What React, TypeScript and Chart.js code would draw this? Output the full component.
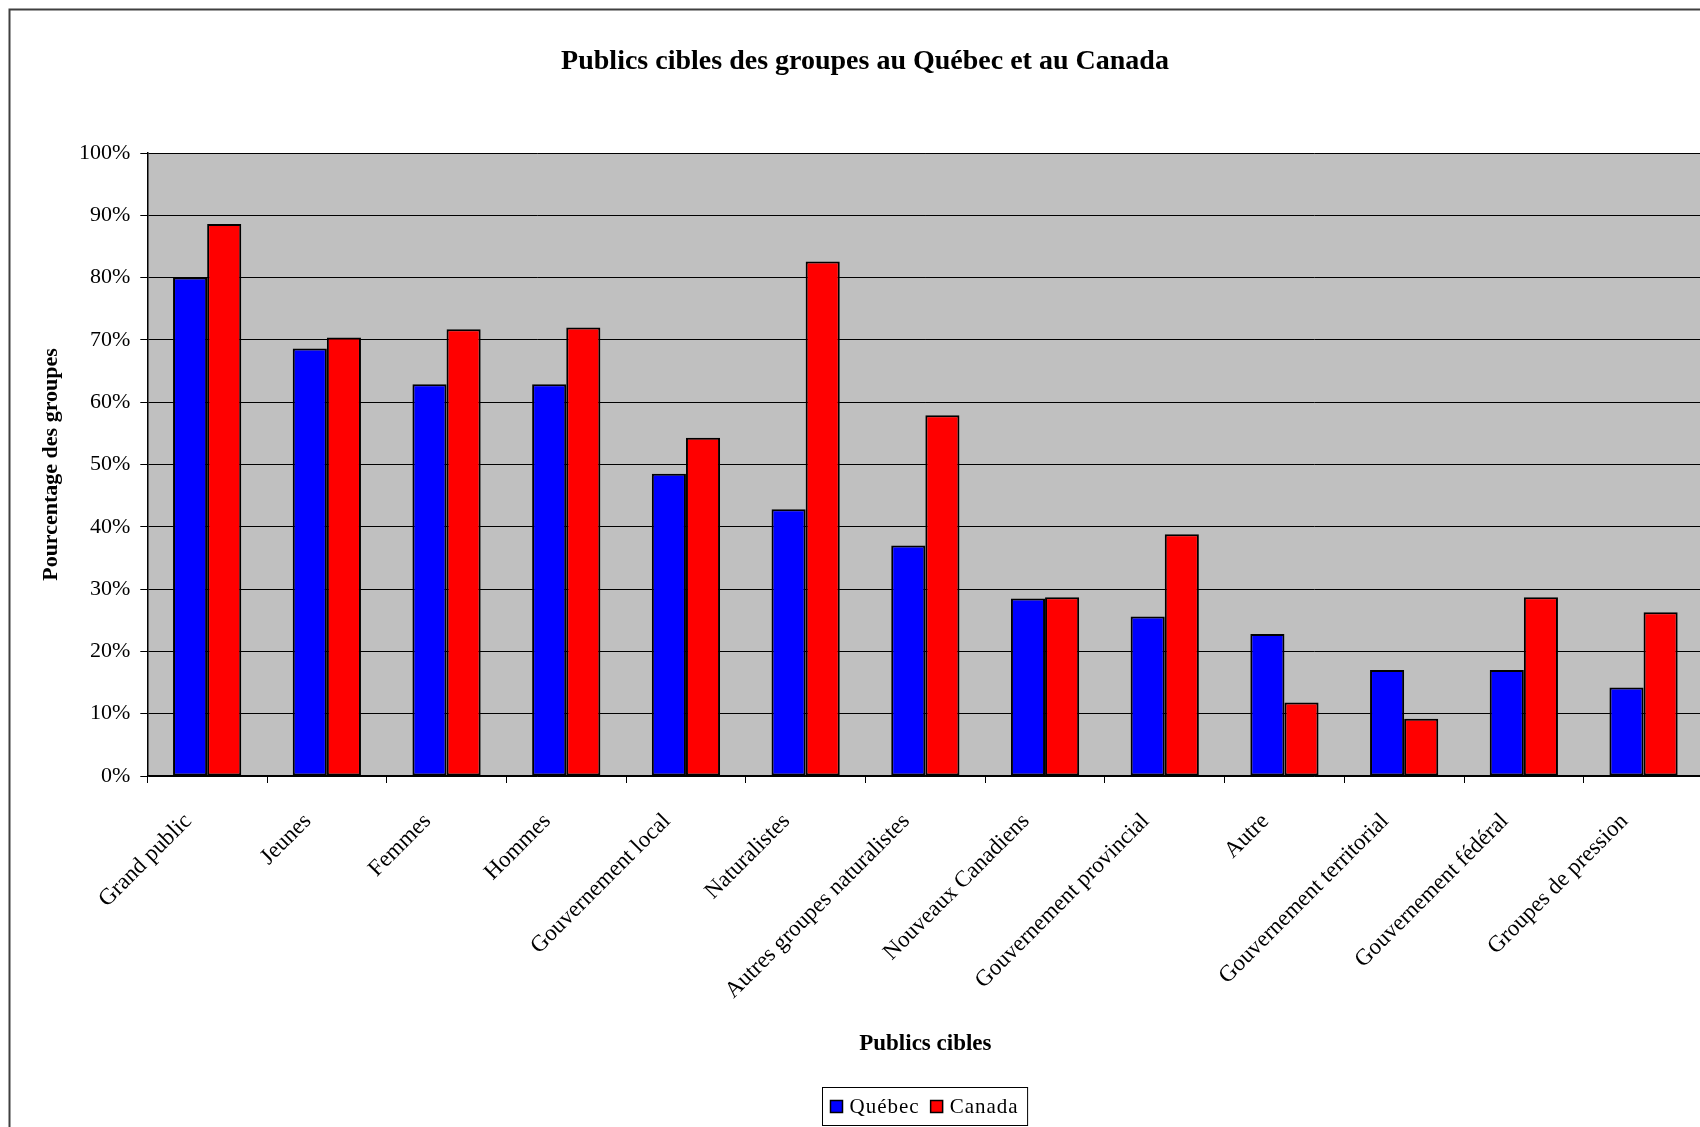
import React, { useEffect, useRef } from "react";
import { Chart, registerables } from "chart.js";

Chart.register(...registerables);

const categories = [
  "Grand public",
  "Jeunes",
  "Femmes",
  "Hommes",
  "Gouvernement local",
  "Naturalistes",
  "Autres groupes naturalistes",
  "Nouveaux Canadiens",
  "Gouvernement provincial",
  "Autre",
  "Gouvernement territorial",
  "Gouvernement fédéral",
  "Groupes de pression",
];
const quebecValues = [80.0, 68.6, 62.9, 62.9, 48.5, 42.8, 37.0, 28.5, 25.6, 22.8, 17.0, 17.0, 14.2];
const canadaValues = [88.6, 70.4, 71.7, 72.0, 54.3, 82.6, 57.9, 28.7, 38.8, 11.8, 9.2, 28.7, 26.3];
const seriesNames = ["Québec", "Canada"];
const seriesColors = ["#0000FF", "#FF0000"];
const yTickValues = [0, 10, 20, 30, 40, 50, 60, 70, 80, 90, 100];
const chartTitle = "Publics cibles des groupes au Québec et au Canada";
const xAxisTitle = "Publics cibles";
const yAxisTitle = "Pourcentage des groupes";

const FONT = "'Liberation Serif', 'Times New Roman', serif";
const CANVAS_W = 1720;
const CANVAS_H = 1127;

const decorPlugin = {
  id: "decor",
  beforeDraw(chart: any) {
    const { ctx, chartArea } = chart;
    ctx.save();
    ctx.fillStyle = "#FFFFFF";
    ctx.fillRect(0, 0, chart.width, chart.height);
    ctx.fillStyle = "#C0C0C0";
    ctx.fillRect(chartArea.left, chartArea.top, chartArea.right - chartArea.left, chartArea.bottom - chartArea.top);
    ctx.restore();
  },
  afterDraw(chart: any) {
    const { ctx, chartArea } = chart;
    ctx.save();
    // outer chart border
    ctx.strokeStyle = "#404040";
    ctx.lineWidth = 2;
    ctx.strokeRect(9.5, 9.5, chart.width + 20, chart.height + 20);

    // title
    ctx.fillStyle = "#000";
    ctx.font = `bold 28px ${FONT}`;
    ctx.textAlign = "center";
    ctx.textBaseline = "middle";
    ctx.fillText(chartTitle, 865, 62);

    // legend
    const datasets = chart.data.datasets;
    ctx.font = `21px ${FONT}`;
    try { (ctx as any).letterSpacing = "1px"; } catch (e) {}
    const sq = 12;
    const padL = 8, padR = 9, gapSqText = 7, gapItems = 11;
    const widths = datasets.map((d: any) => ctx.measureText(d.label).width);
    let total = padL + padR;
    datasets.forEach((d: any, i: number) => {
      total += sq + gapSqText + widths[i] + (i < datasets.length - 1 ? gapItems : 0);
    });
    const cx = (chartArea.left + chartArea.right) / 2;
    const bx = Math.round(cx - total / 2) - 0.5;
    const by = 1087.5;
    const bh = 38;
    ctx.fillStyle = "#FFFFFF";
    ctx.fillRect(bx, by, total, bh);
    ctx.strokeStyle = "#000";
    ctx.lineWidth = 1;
    ctx.strokeRect(bx, by, total, bh);
    let x = bx + padL;
    const midY = by + bh / 2;
    datasets.forEach((d: any, i: number) => {
      ctx.fillStyle = d.backgroundColor;
      ctx.fillRect(x, midY - sq / 2, sq, sq);
      ctx.strokeStyle = "#000";
      ctx.lineWidth = 1.5;
      ctx.strokeRect(x, midY - sq / 2, sq, sq);
      x += sq + gapSqText;
      ctx.fillStyle = "#000";
      ctx.textAlign = "left";
      ctx.textBaseline = "middle";
      ctx.fillText(d.label, x, midY + 1);
      x += widths[i] + gapItems;
    });
    try { (ctx as any).letterSpacing = "0px"; } catch (e) {}
    ctx.restore();
  },
};

export default function App() {
  const canvasRef = useRef<HTMLCanvasElement | null>(null);

  useEffect(() => {
    const canvas = canvasRef.current;
    if (!canvas) return;
    const plotLeft = 147.3;
    const plotRight = 147.3 + 13 * 119.7;
    const plotTop = 153;
    const plotBottom = 776;

    const chart = new Chart(canvas, {
      type: "bar",
      data: {
        labels: categories,
        datasets: [
          {
            label: seriesNames[0],
            data: quebecValues,
            backgroundColor: seriesColors[0],
            borderColor: "#000000",
            borderWidth: 2,
            borderSkipped: false,
            categoryPercentage: 0.57,
            barPercentage: 1.0,
          },
          {
            label: seriesNames[1],
            data: canadaValues,
            backgroundColor: seriesColors[1],
            borderColor: "#000000",
            borderWidth: 2,
            borderSkipped: false,
            categoryPercentage: 0.57,
            barPercentage: 1.0,
          },
        ],
      },
      options: {
        responsive: false,
        animation: false,
        devicePixelRatio: 1,
        layout: {
          padding: { top: plotTop, left: 0, right: CANVAS_W - plotRight, bottom: 0 },
        },
        plugins: {
          legend: { display: false },
          title: { display: false },
          tooltip: { enabled: false },
        },
        scales: {
          x: {
            grid: {
              display: true,
              drawOnChartArea: false,
              drawTicks: true,
              tickLength: 7,
              color: "#000000",
              offset: true,
            },
            border: { display: true, color: "#000000", width: 1.5 },
            ticks: {
              autoSkip: false,
              minRotation: 45,
              maxRotation: 45,
              color: "#000000",
              font: { family: FONT, size: 23 },
              padding: 25,
              labelOffset: -19,
            },
            title: {
              display: true,
              text: xAxisTitle,
              color: "#000000",
              font: { family: FONT, size: 23, weight: "bold" },
              padding: { top: 0, bottom: 69 },
            },
            afterFit: (s: any) => {
              s.height = CANVAS_H - plotBottom;
            },
          },
          y: {
            min: 0,
            max: 100,
            afterBuildTicks: (s: any) => {
              s.ticks = yTickValues.map((v) => ({ value: v }));
            },
            ticks: {
              color: "#000000",
              font: { family: FONT, size: 22 },
              padding: 10,
              callback: (v: any) => `${v}%`,
            },
            grid: {
              color: "#000000",
              lineWidth: 1,
              drawTicks: true,
              tickLength: 7,
            },
            border: { display: true, color: "#000000", width: 1.5 },
            title: {
              display: true,
              text: yAxisTitle,
              color: "#000000",
              font: { family: FONT, size: 22, weight: "bold" },
              padding: { top: 38, bottom: 0 },
            },
            afterFit: (s: any) => {
              s.width = plotLeft;
            },
          },
        },
      },
      plugins: [decorPlugin],
    });
    return () => chart.destroy();
  }, []);

  return (
    <div
      style={{
        position: "fixed",
        left: 0,
        top: 0,
        width: 1700,
        height: 1127,
        overflow: "hidden",
        background: "#fff",
      }}
    >
      <canvas
        ref={canvasRef}
        width={CANVAS_W}
        height={CANVAS_H}
        style={{ width: CANVAS_W, height: CANVAS_H, display: "block" }}
      />
    </div>
  );
}
